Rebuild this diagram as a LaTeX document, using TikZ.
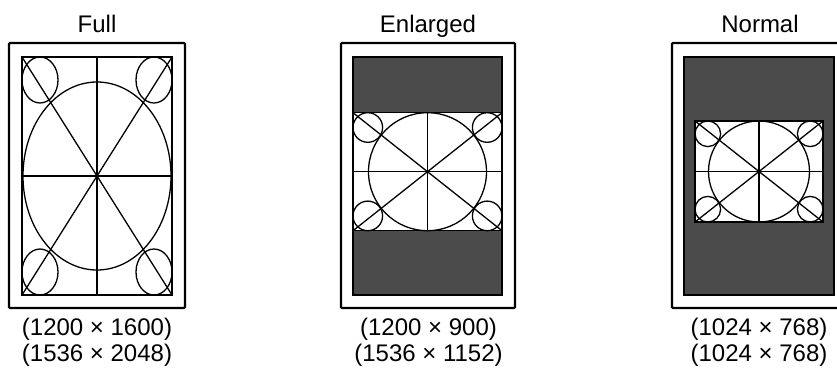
\documentclass[tikz,border=0pt]{standalone}
\usepackage{fontspec}
\setmainfont{Liberation Sans}
\definecolor{scr}{RGB}{76,75,76}
\tikzset{
  frame/.style={draw=black,line width=2.2pt,fill=white,rounded corners=1pt},
  screen/.style={draw=black,line width=2.8pt,fill=scr},
  screenedge/.style={draw=black,line width=2.8pt},
  patline/.style={draw=black,line width=1.3pt},
  lab/.style={font=\fontsize{24}{28}\selectfont,anchor=base,inner sep=0pt}
}
% x1 y1 x2 y2 bigrx bigry cornerrx cornerry
\newcommand\tpat[8]{%
  \fill[white] (#1,#2) rectangle (#3,#4);
  \begin{scope}[patline]
    \draw ({(#1+#3)/2},{(#2+#4)/2}) ellipse [x radius=#5, y radius=#6];
    \draw ({#1+#7},{#2+#8}) ellipse [x radius=#7, y radius=#8];
    \draw ({#3-#7},{#2+#8}) ellipse [x radius=#7, y radius=#8];
    \draw ({#1+#7},{#4-#8}) ellipse [x radius=#7, y radius=#8];
    \draw ({#3-#7},{#4-#8}) ellipse [x radius=#7, y radius=#8];
    \draw (#1,#2) -- (#3,#4);
    \draw (#1,#4) -- (#3,#2);
    \draw ({(#1+#3)/2},#2) -- ({(#1+#3)/2},#4);
    \draw (#1,{(#2+#4)/2}) -- (#3,{(#2+#4)/2});
    \draw (#1,#2) rectangle (#3,#4);
  \end{scope}}
\begin{document}
\begin{tikzpicture}[x=1pt,y=-1pt]
  \useasboundingbox (0,0) rectangle (837,367);
  \clip (0,0) rectangle (837,367);
  % Full
  \draw[frame] (9,43) rectangle (185,308);
  \draw[screen] (22,57) rectangle (172,295);
  \tpat{22}{57}{172}{295}{74}{94}{18}{23}
  \draw[screenedge] (22,57) rectangle (172,295);
  % Enlarged
  \draw[frame] (341,43) rectangle (515,308);
  \draw[screen] (353,57) rectangle (502,295);
  \tpat{353}{112.7}{502}{230.7}{59}{59}{14.8}{14.8}
  \draw[screenedge] (353,57) rectangle (502,295);
  % Normal
  \draw[frame] (672,43) rectangle (848,308);
  \draw[screen] (684,57) rectangle (834,295);
  \tpat{695}{121}{823}{222}{50.5}{50.5}{12.8}{12.8}
  \draw[screenedge] (684,57) rectangle (834,295);
  % labels
  \node[lab] (tfull) at (97,32) {Full};
  \node[lab] (tenl) at (428,32) {Enlarged};
  \node[lab] (tnorm) at (760,32) {Normal};
  \node[lab] (fa) at (97,335) {(1200 × 1600)};
  \node[lab] (fb) at (97,361.5) {(1536 × 2048)};
  \node[lab] (ea) at (428.5,335) {(1200 × 900)};
  \node[lab] (eb) at (428.5,361.5) {(1536 × 1152)};
  \node[lab] (na) at (759,335) {(1024 × 768)};
  \node[lab] (nb) at (759,361.5) {(1024 × 768)};
\end{tikzpicture}
\end{document}
